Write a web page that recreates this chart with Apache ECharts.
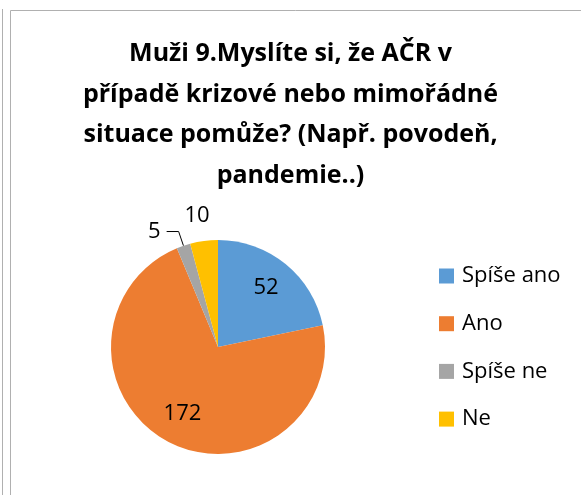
<!DOCTYPE html>
<html>
<head>
<meta charset="utf-8">
<script src="https://cdn.jsdelivr.net/npm/echarts@6/dist/echarts.min.js"></script>
<style>
html,body{margin:0;padding:0;background:#fff;}
#chart{width:581px;height:495px;}
</style>
</head>
<body>
<div id="chart"></div>
<script>
// data
var titleLines = ["Muži 9.Myslíte si, že AČR v", "případě krizové nebo mimořádné", "situace pomůže? (Např. povodeň,", "pandemie..)"];
var categories = ["Spíše ano", "Ano", "Spíše ne", "Ne"];
var values = [52, 172, 5, 10];
var colors = ["#5B9BD5", "#ED7D31", "#A5A5A5", "#FFC000"];

var fontName = "Open Sans";
var center = [218, 347];

// main pie, only the small slices get outside labels
var mainData = [];
for(var i=0;i<categories.length;i++){
	var item = {name:categories[i], value:values[i], itemStyle:{color:colors[i]}};
	if(i<2){
		item.label = {show:false};
		item.labelLine = {show:false};
	}
	mainData.push(item);
}
mainData[2].label = {show:true, distanceToLabelLine:6};
mainData[2].labelLine = {show:true, length:15, length2:12, lineStyle:{color:"#000", width:1}};
mainData[3].label = {show:true, distanceToLabelLine:-9};
mainData[3].labelLine = {show:false, length:25, length2:0};

// ghost pie, used to push the inside labels outwards
var ghostData = [];
for(var i=0;i<categories.length;i++){
	ghostData.push({name:categories[i], value:values[i], label:{show:i<2}});
}

var chart = echarts.init(document.getElementById("chart"));
chart.setOption({
	animation:false,
	title:{
		text:titleLines.join("\n"),
		left:"center",
		top:29,
		textStyle:{fontFamily:fontName, fontSize:25, fontWeight:"bold", color:"#000", lineHeight:40.5}
	},
	legend:{
		orient:"vertical",
		left:439,
		top:265,
		padding:0,
		itemWidth:15,
		itemHeight:15,
		itemGap:25.7,
		icon:"rect",
		data:categories,
		textStyle:{fontFamily:fontName, fontSize:22, color:"#000", lineHeight:22, padding:[0,0,0,3]}
	},
	graphic:[
		{type:"line", shape:{x1:2.5, y1:9, x2:2.5, y2:495}, style:{stroke:"#b0b0b0", lineWidth:1}, silent:true},
		{type:"line", shape:{x1:10.5, y1:10.5, x2:581, y2:10.5}, style:{stroke:"#b0b0b0", lineWidth:1}, silent:true},
		{type:"line", shape:{x1:10.5, y1:10.5, x2:10.5, y2:495}, style:{stroke:"#b0b0b0", lineWidth:1}, silent:true}
	],
	series:[
		{
			type:"pie",
			center:center,
			radius:[0,107],
			startAngle:90,
			clockwise:true,
			avoidLabelOverlap:false,
			silent:true,
			label:{position:"outside", fontFamily:fontName, fontSize:22, color:"#000", formatter:"{c}"},
			itemStyle:{borderWidth:0},
			emphasis:{disabled:true},
			data:mainData,
			z:2
		},
		{
			type:"pie",
			center:center,
			radius:[0,146],
			startAngle:90,
			clockwise:true,
			silent:true,
			itemStyle:{color:"rgba(0,0,0,0)", borderWidth:0},
			label:{position:"inside", fontFamily:fontName, fontSize:22, color:"#000", formatter:"{c}"},
			labelLine:{show:false},
			emphasis:{disabled:true},
			data:ghostData,
			z:3
		}
	]
});
</script>
</body>
</html>
